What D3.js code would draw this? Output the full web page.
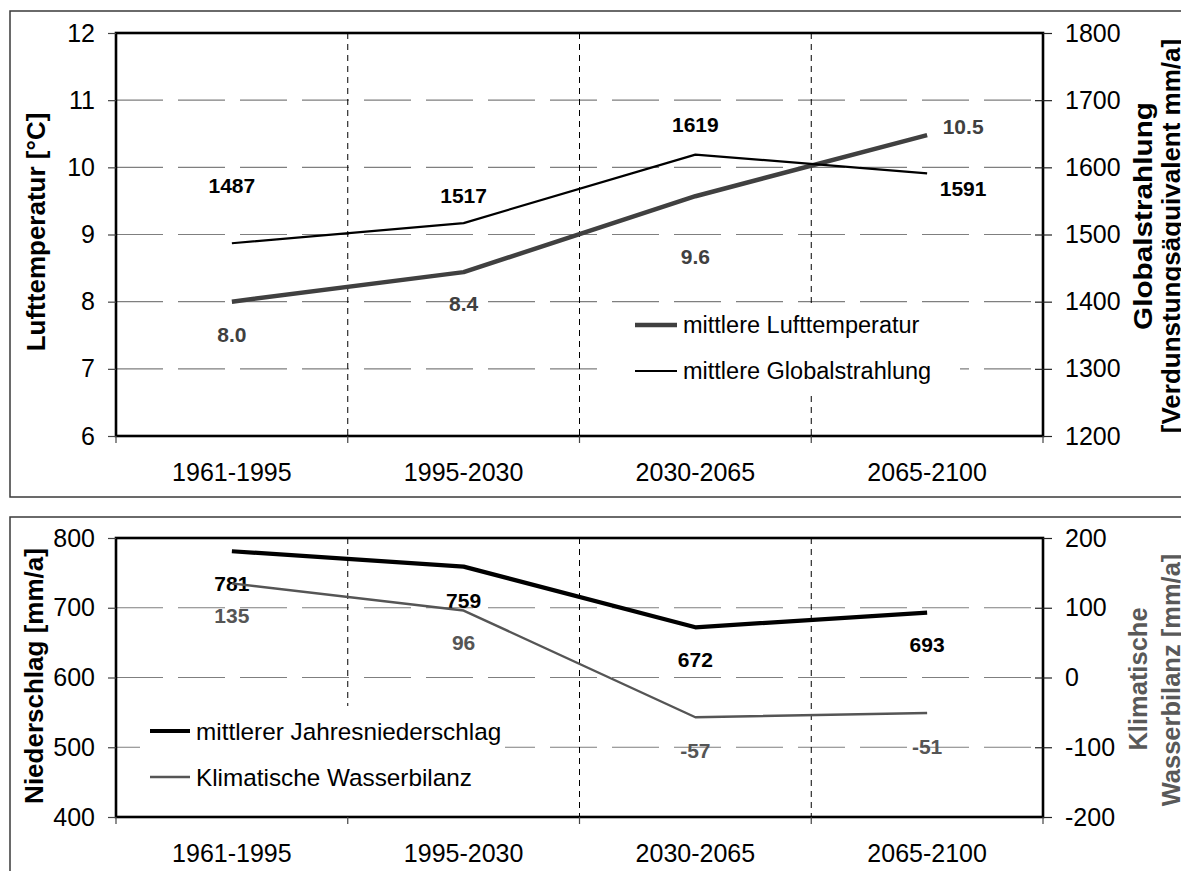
<!DOCTYPE html>
<html><head><meta charset="utf-8">
<script src="https://cdn.jsdelivr.net/npm/d3@7"></script>
<style>
body{margin:0;background:#fff;}
svg{display:block;font-family:"Liberation Sans",Arial,sans-serif;}
</style></head>
<body>
<svg id="c" width="1181" height="871"></svg>
<script>
// ---- data ----
const categories = ["1961-1995","1995-2030","2030-2065","2065-2100"];
const temperature = [8.0, 8.44, 9.57, 10.48];      // °C (left axis, top)
const globalRadiation = [1487, 1517, 1619, 1591];  // mm/a (right axis, top)
const precipitation = [781, 759, 672, 693];        // mm/a (left axis, bottom)
const waterBalance = [135, 96, -57, -51];          // mm/a (right axis, bottom)
const tempTicks = [6,7,8,9,10,11,12];
const globTicks = [1200,1300,1400,1500,1600,1700,1800];
const precTicks = [400,500,600,700,800];
const waterTicks = [-200,-100,0,100,200];

// label placement offsets (style only)
const tempLabelOff = [[0,33],[0,31],[0,60],[36,-9]];
const globLabelOff = [[0,-58],[0,-28],[0,-30],[36,15]];
const precLabelOff = [[0,32],[0,34],[0,32],[0,32]];
const waterLabelOff = [[0,32],[0,32],[0,33],[0,33]];

const svg = d3.select("#c");
const L = 116, R = 1043;
const x = d3.scaleBand().domain(categories).range([L, R]).padding(0);
const cx = c => x(c) + x.bandwidth()/2;
const FONT = 25;
const plain = d => String(d);

// outer boxes
svg.append("rect").attr("x",10).attr("y",11).attr("width",1200).attr("height",486)
  .attr("fill","none").attr("stroke","#3a3a3a").attr("stroke-width",1.5);
svg.append("rect").attr("x",10).attr("y",517).attr("width",1200).attr("height",400)
  .attr("fill","none").attr("stroke","#3a3a3a").attr("stroke-width",1.5);

function panel(cfg){
  const g = svg.append("g");
  const yL = d3.scaleLinear().domain(cfg.leftDomain).range([cfg.bottom, cfg.top]);
  const yR = d3.scaleLinear().domain(cfg.rightDomain).range([cfg.bottom, cfg.top]);
  // horizontal gridlines
  g.append("g").selectAll("line").data(cfg.leftTicks.slice(1,-1)).join("line")
    .attr("x1",L).attr("x2",R).attr("y1",d=>yL(d)).attr("y2",d=>yL(d))
    .attr("stroke","#7f7f7f").attr("stroke-width",1.2).attr("stroke-dasharray","47,15");
  // vertical dashed category separators
  g.append("g").selectAll("line").data(categories.slice(1)).join("line")
    .attr("x1",d=>x(d)).attr("x2",d=>x(d)).attr("y1",cfg.top).attr("y2",cfg.bottom)
    .attr("stroke","#000").attr("stroke-width",1).attr("stroke-dasharray","6,5");
  // legend box
  const lb = cfg.legend.box;
  g.append("rect").attr("x",lb[0]).attr("y",lb[1]).attr("width",lb[2]).attr("height",lb[3]).attr("fill","#fff");
  // series
  cfg.series.forEach(s=>{
    const ys = s.axis==="L"?yL:yR;
    g.append("path").datum(s.values)
      .attr("d", d3.line().x((d,i)=>cx(categories[i])).y(d=>ys(d)))
      .attr("fill","none").attr("stroke",s.color).attr("stroke-width",s.width)
      .attr("stroke-linejoin","round");
    g.append("g").selectAll("text").data(s.values).join("text")
      .attr("x",(d,i)=>cx(categories[i])+s.off[i][0])
      .attr("y",(d,i)=>ys(d)+s.off[i][1])
      .attr("text-anchor","middle").attr("dominant-baseline","central")
      .attr("font-size",21).attr("font-weight","bold").attr("fill",s.labelColor)
      .text(d=>s.fmt(d));
  });
  // legend items
  cfg.series.forEach((s,i)=>{
    const ly = cfg.legend.ys[i];
    g.append("line").attr("x1",cfg.legend.x0).attr("x2",cfg.legend.x1).attr("y1",ly).attr("y2",ly)
      .attr("stroke",s.color).attr("stroke-width",s.width);
    g.append("text").attr("x",cfg.legend.tx).attr("y",ly).attr("dominant-baseline","central")
      .attr("font-size",cfg.legend.fs).attr("fill","#000").text(s.name);
  });
  // frame
  g.append("rect").attr("x",L).attr("y",cfg.top).attr("width",R-L).attr("height",cfg.bottom-cfg.top)
    .attr("fill","none").attr("stroke","#000").attr("stroke-width",2.6);
  // left axis
  const ax = g.append("g").attr("transform",`translate(${L},0)`)
    .call(d3.axisLeft(yL).tickValues(cfg.leftTicks).tickSize(8).tickPadding(13).tickFormat(plain));
  ax.select(".domain").remove();
  ax.selectAll(".tick line").attr("stroke","#444").attr("stroke-width",1.2);
  ax.selectAll("text").attr("font-size",FONT).attr("font-family","Liberation Sans, Arial, sans-serif").attr("fill","#000");
  // right axis
  const ar = g.append("g").attr("transform",`translate(${R},0)`)
    .call(d3.axisRight(yR).tickValues(cfg.rightTicks).tickSize(9).tickPadding(13).tickFormat(plain));
  ar.select(".domain").remove();
  ar.selectAll(".tick line").attr("stroke","#222").attr("stroke-width",1.2)
    .attr("x1",(d,i,n)=> (i===0||i===n.length-1)?0:-8);
  ar.selectAll("text").attr("font-size",FONT).attr("font-family","Liberation Sans, Arial, sans-serif").attr("fill","#000");
  // bottom axis (labels)
  const ab = g.append("g").attr("transform",`translate(0,${cfg.bottom})`)
    .call(d3.axisBottom(x).tickSize(0).tickPadding(27));
  ab.select(".domain").remove();
  ab.selectAll("text").attr("font-size",FONT).attr("font-family","Liberation Sans, Arial, sans-serif").attr("fill","#000");
  // category boundary ticks
  g.append("g").selectAll("line").data([...categories.map(c=>x(c)), R]).join("line")
    .attr("x1",d=>d).attr("x2",d=>d).attr("y1",cfg.bottom).attr("y2",cfg.bottom+7)
    .attr("stroke","#444").attr("stroke-width",1.2);
  return g;
}

// ---- top panel ----
panel({
  top:33, bottom:436,
  leftDomain:[6,12], rightDomain:[1200,1800],
  leftTicks:tempTicks, rightTicks:globTicks,
  series:[
    {name:"mittlere Lufttemperatur", values:temperature, axis:"L", color:"#404040", width:4.5,
     labelColor:"#404040", off:tempLabelOff, fmt:d3.format(".1f")},
    {name:"mittlere Globalstrahlung", values:globalRadiation, axis:"R", color:"#000", width:2.2,
     labelColor:"#000", off:globLabelOff, fmt:plain}
  ],
  legend:{box:[610,304,350,88], ys:[325,371], x0:635, x1:677, tx:683, fs:23.5}
});

// ---- bottom panel ----
panel({
  top:538, bottom:817,
  leftDomain:[400,800], rightDomain:[-200,200],
  leftTicks:precTicks, rightTicks:waterTicks,
  series:[
    {name:"mittlerer Jahresniederschlag", values:precipitation, axis:"L", color:"#000", width:4.2,
     labelColor:"#000", off:precLabelOff, fmt:plain},
    {name:"Klimatische Wasserbilanz", values:waterBalance, axis:"R", color:"#555", width:2.4,
     labelColor:"#555", off:waterLabelOff, fmt:plain}
  ],
  legend:{box:[140,706,365,110], ys:[731,777], x0:150, x1:190, tx:196, fs:24.3}
});

// ---- axis titles ----
function vtitle(txt, xB, yC, opt){
  const t = svg.append("text")
    .attr("transform",`translate(${xB},${yC}) rotate(-90)`)
    .attr("text-anchor","middle").attr("font-weight","bold")
    .attr("font-size",opt.fs).attr("fill",opt.color||"#000").text(txt);
  if(opt.len) t.attr("textLength",opt.len).attr("lengthAdjust","spacingAndGlyphs");
}
vtitle("Lufttemperatur [°C]", 45, 232, {fs:26});
vtitle("Globalstrahlung", 1152, 216, {fs:26, len:228});
vtitle("[Verdunstungsäquivalent mm/a]", 1180, 236, {fs:26});
vtitle("Niederschlag [mm/a]", 43, 676, {fs:26});
vtitle("Klimatische", 1147, 679, {fs:25.5, color:"#595959"});
vtitle("Wasserbilanz [mm/a]", 1180, 680, {fs:25.5, color:"#595959"});
</script>
</body></html>
